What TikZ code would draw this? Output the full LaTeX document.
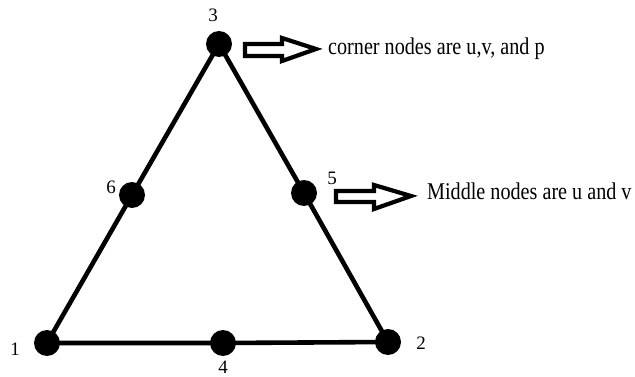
\documentclass[tikz,border=0pt]{standalone}
\usepackage{fontspec}
\setmainfont{Liberation Serif}
\newfontfamily\annfont{Liberation Serif}[FakeStretch=0.84]
\begin{document}
\begin{tikzpicture}[x=1pt,y=-1pt,
  dot/.style={circle,fill=black,inner sep=0pt,minimum size=26pt},
  edge/.style={line width=4.6pt},
  lbl/.style={font=\fontsize{19}{19}\selectfont,inner sep=0pt},
  note/.style={font=\annfont\fontsize{24}{24}\selectfont,inner sep=0pt,anchor=base west},
  blockarrow/.style={draw=black,line width=4.2pt,fill=white,line join=miter}]
\useasboundingbox (0,0) rectangle (635,377);
\fill[white] (0,0) rectangle (635,377);
% corner and middle nodes
\coordinate (p1) at (47,343);
\coordinate (p2) at (388,342);
\coordinate (p3) at (219,44);
\coordinate (p4) at (223,343);
\coordinate (p5) at (304,193);
\coordinate (p6) at (132,195);
\draw[edge] (p1) -- (p4) -- (p2) -- (p5) -- (p3) -- (p6) -- cycle;
\node[dot] (n1) at (p1) {};
\node[dot] (n2) at (p2) {};
\node[dot] (n3) at (p3) {};
\node[dot] (n4) at (p4) {};
\node[dot] (n5) at (p5) {};
\node[dot] (n6) at (p6) {};
% labels
\node[lbl] (l1) at (15,349) {1};
\node[lbl] (l2) at (421,343) {2};
\node[lbl] (l3) at (213,15) {3};
\node[lbl] (l4) at (223,367) {4};
\node[lbl] (l5) at (332,178) {5};
\node[lbl] (l6) at (111,187) {6};
% block arrows
\draw[blockarrow] (245,44) -- (282,44) -- (282,38) -- (316,49) -- (282,61) -- (282,56) -- (245,56) -- cycle;
\draw[blockarrow] (336,191) -- (374,191) -- (374,185) -- (411,196) -- (374,209) -- (374,202) -- (336,202) -- cycle;
% notes
\node[note] (t1) at (328,55) {corner nodes are u,v, and p};
\node[note] (t2) at (427,200) {Middle nodes are u and v};
\end{tikzpicture}
\end{document}
